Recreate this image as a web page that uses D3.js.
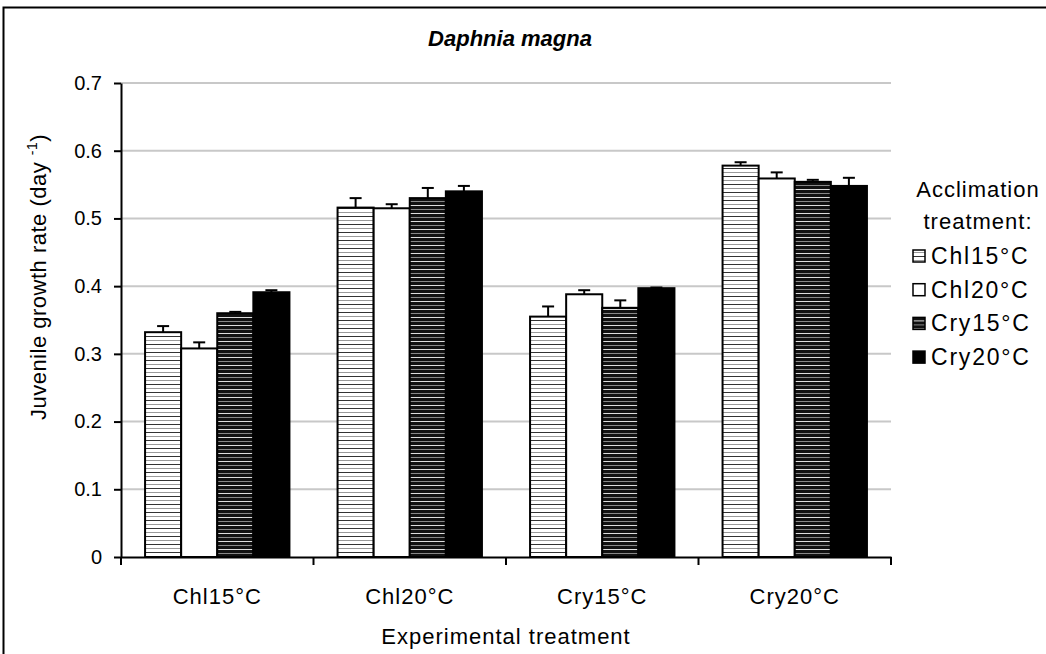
<!DOCTYPE html>
<html>
<head>
<meta charset="utf-8">
<style>
body { margin: 0; background: #fff; }
#chart { width: 1046px; height: 654px; }
text { font-family: "Liberation Sans", Arial, sans-serif; fill: #000; }
</style>
</head>
<body>
<svg id="chart" width="1046" height="654"></svg>
<script src="https://d3js.org/d3.v7.min.js"></script>
<script>
// experimental treatments on the x axis
var categories = ["Chl15°C", "Chl20°C", "Cry15°C", "Cry20°C"];
// acclimation treatments (legend)
var series = ["Chl15°C", "Chl20°C", "Cry15°C", "Cry20°C"];
// mean growth rate per acclimation series, one value per experimental treatment
var chl15Means = [0.332, 0.516, 0.355, 0.578];
var chl20Means = [0.308, 0.515, 0.388, 0.559];
var cry15Means = [0.360, 0.530, 0.368, 0.554];
var cry20Means = [0.391, 0.540, 0.397, 0.548];
// upper error bars
var chl15Err = [0.009, 0.014, 0.015, 0.005];
var chl20Err = [0.009, 0.006, 0.006, 0.009];
var cry15Err = [0.002, 0.015, 0.011, 0.003];
var cry20Err = [0.003, 0.008, 0.001, 0.012];
var yTicks = [0, 0.1, 0.2, 0.3, 0.4, 0.5, 0.6, 0.7];

const means = [chl15Means, chl20Means, cry15Means, cry20Means];
const errs = [chl15Err, chl20Err, cry15Err, cry20Err];
const fills = ["url(#hatchLight)", "#fff", "url(#hatchDark)", "#000"];

const svg = d3.select("#chart");
const plotL = 121, plotR = 891, plotT = 83, plotB = 557;
const fs = 22, ls = "1px";

// outer frame
svg.append("rect")
    .attr("x", 3.5).attr("y", 7.5)
    .attr("width", 1060).attr("height", 660)
    .style("fill", "none").style("stroke", "#000").style("stroke-width", 2);

// hatch patterns
const defs = svg.append("defs");
const p1 = defs.append("pattern").attr("id", "hatchLight")
    .attr("patternUnits", "userSpaceOnUse").attr("width", 8).attr("height", 8);
p1.append("rect").attr("width", 8).attr("height", 8).style("fill", "#fff");
p1.append("rect").attr("y", 0).attr("width", 8).attr("height", 1).style("fill", "#333");
p1.append("rect").attr("y", 4).attr("width", 8).attr("height", 1).style("fill", "#999");
const p2 = defs.append("pattern").attr("id", "hatchDark")
    .attr("patternUnits", "userSpaceOnUse").attr("width", 8).attr("height", 8);
p2.append("rect").attr("width", 8).attr("height", 8).style("fill", "#111");
p2.append("rect").attr("y", 1).attr("width", 8).attr("height", 1).style("fill", "#888");
p2.append("rect").attr("y", 5).attr("width", 8).attr("height", 1).style("fill", "#ddd");

const x = d3.scaleBand().domain(categories).range([plotL, plotR])
    .paddingInner(0.25).paddingOuter(0.125);
const xs = d3.scaleBand().domain(series).range([0, x.bandwidth()]);
const y = d3.scaleLinear().domain([0, 0.7]).range([plotB, plotT]);

// gridlines
svg.append("g").selectAll("line")
    .data(yTicks.slice(1))
    .enter().append("line")
    .attr("x1", plotL).attr("x2", plotR)
    .attr("y1", d => y(d)).attr("y2", d => y(d))
    .style("stroke", "#c8c8c8").style("stroke-width", 2);

// bars
const rows = [];
series.forEach((s, si) => {
    categories.forEach((c, ci) => {
        rows.push({ s: s, si: si, c: c, v: means[si][ci], e: errs[si][ci] });
    });
});

svg.append("g").selectAll("rect")
    .data(rows)
    .enter().append("rect")
    .attr("x", d => x(d.c) + xs(d.s))
    .attr("y", d => y(d.v))
    .attr("width", xs.bandwidth())
    .attr("height", d => plotB - y(d.v))
    .style("fill", d => fills[d.si])
    .style("stroke", "#000").style("stroke-width", 2);

// error bars (upper only)
const eb = svg.append("g").style("stroke", "#000").style("stroke-width", 2);
eb.selectAll("line.v").data(rows).enter().append("line").attr("class", "v")
    .attr("x1", d => x(d.c) + xs(d.s) + xs.bandwidth() / 2)
    .attr("x2", d => x(d.c) + xs(d.s) + xs.bandwidth() / 2)
    .attr("y1", d => y(d.v)).attr("y2", d => y(d.v + d.e));
eb.selectAll("line.h").data(rows).enter().append("line").attr("class", "h")
    .attr("x1", d => x(d.c) + xs(d.s) + xs.bandwidth() / 2 - 6)
    .attr("x2", d => x(d.c) + xs(d.s) + xs.bandwidth() / 2 + 6)
    .attr("y1", d => y(d.v + d.e)).attr("y2", d => y(d.v + d.e));

// y axis
const yAxis = svg.append("g").attr("transform", `translate(${plotL},0)`)
    .call(d3.axisLeft(y).tickValues(yTicks).tickSize(7).tickSizeOuter(0)
        .tickFormat(d => d === 0 ? "0" : d3.format(".1f")(d)));
yAxis.select(".domain").style("stroke-width", 2);
yAxis.selectAll(".tick line").style("stroke-width", 2);
yAxis.selectAll("text").style("font-size", "20px")
    .style("font-family", "'Liberation Sans', Arial, sans-serif").attr("x", -19);

// x axis with ticks at category boundaries
const xAxis = svg.append("g").attr("transform", `translate(0,${plotB})`)
    .call(d3.axisBottom(x).tickSize(0).tickSizeOuter(0));
xAxis.select(".domain").style("stroke-width", 2);
xAxis.selectAll("text").style("font-size", fs + "px").style("letter-spacing", ls)
    .style("font-family", "'Liberation Sans', Arial, sans-serif").attr("y", 31);
const bounds = categories.map(c => x(c) - x.step() * x.paddingInner() / 2);
bounds[0] = plotL;
bounds.push(plotR);
svg.append("g").selectAll("line").data(bounds).enter().append("line")
    .attr("x1", d => d).attr("x2", d => d)
    .attr("y1", plotB).attr("y2", plotB + 8)
    .style("stroke", "#000").style("stroke-width", 2);

// titles
svg.append("text").attr("x", 510).attr("y", 46)
    .attr("text-anchor", "middle")
    .style("font-size", fs + "px").style("font-weight", "bold").style("font-style", "italic")
    .text("Daphnia magna");

svg.append("text").attr("x", (plotL + plotR) / 2).attr("y", 644)
    .attr("text-anchor", "middle").style("font-size", fs + "px").style("letter-spacing", ls)
    .text("Experimental treatment");

const yl = svg.append("text")
    .attr("transform", "translate(46,277) rotate(-90)")
    .attr("text-anchor", "middle").style("font-size", fs + "px").style("letter-spacing", "0.5px");
yl.append("tspan").text("Juvenile growth rate (day ");
yl.append("tspan").attr("dy", -9).style("font-size", "14px").text("-1");
yl.append("tspan").attr("dy", 9).text(")");

// legend
const lg = svg.append("g").style("letter-spacing", ls);
lg.append("text").attr("x", 978).attr("y", 197).attr("text-anchor", "middle")
    .style("font-size", fs + "px").text("Acclimation");
lg.append("text").attr("x", 978).attr("y", 229).attr("text-anchor", "middle")
    .style("font-size", fs + "px").text("treatment:");
const item = lg.selectAll("g.item").data(series).enter().append("g")
    .attr("class", "item")
    .attr("transform", (d, i) => `translate(913,${256 + i * 33.7})`);
item.append("rect").attr("x", 0).attr("y", -6).attr("width", 12).attr("height", 12)
    .style("fill", (d, i) => fills[i]).style("stroke", "#000").style("stroke-width", 1.5);
item.append("text").attr("x", 18).attr("y", 8).style("font-size", "23px")
    .style("letter-spacing", "1.8px").text(d => d);
</script>
</body>
</html>
